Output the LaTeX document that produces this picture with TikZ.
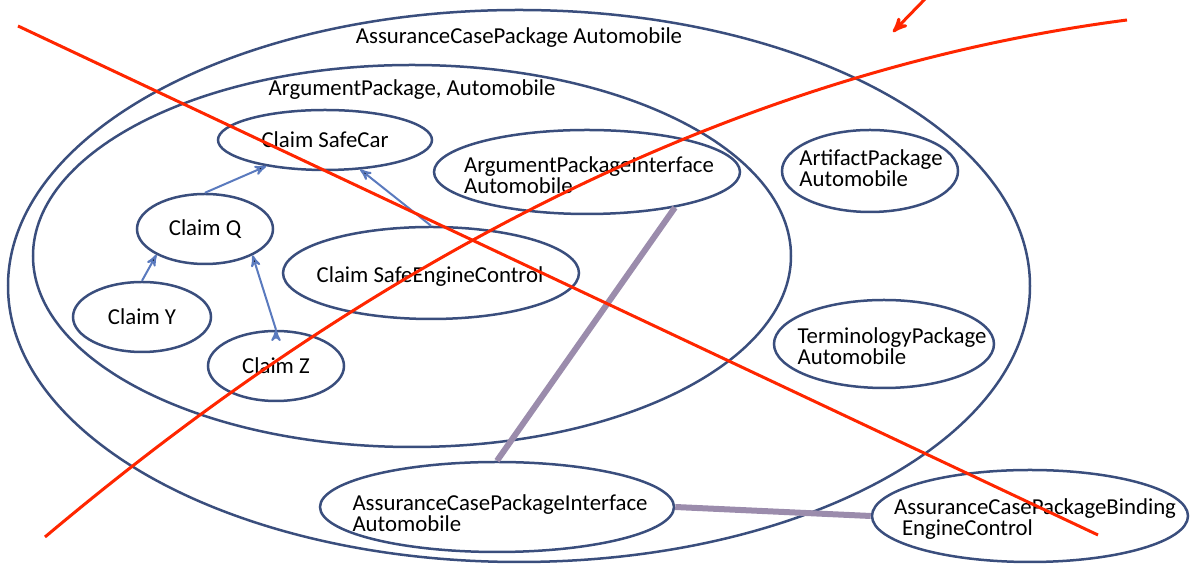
\documentclass[tikz,border=0pt]{standalone}
\usepackage{fontspec}
\setmainfont{Carlito}
\usepackage{tikz}
\usetikzlibrary{shapes.geometric}
\usetikzlibrary{arrows}

\begin{document}
\begin{tikzpicture}[x=0.5pt,y=-0.5pt,>=stealth',
	font=\fontsize{11.4}{10.3}\selectfont,
	main node/.style={ellipse,draw=edgeblue,line width=1.25pt,inner sep=0pt},
	txt/.style={align=left,inner sep=0pt},
	dep/.style={->,draw=arrowblue,line width=1pt},
	bind/.style={draw=bindgray,line width=3pt},
	cross/.style={draw=crossred,line width=1.5pt}]
	
	\definecolor{edgeblue}{RGB}{58,78,125}
	\definecolor{arrowblue}{RGB}{90,122,190}
	\definecolor{bindgray}{RGB}{155,140,172}
	\definecolor{crossred}{RGB}{255,38,0}
	
	\useasboundingbox (0,0) rectangle (1191,565);
	
	% packages
	\node[main node, minimum width=511pt, minimum height=276pt] (acp) at (519,286) {};
	\node[txt] (acp txt) at (519,38) {AssuranceCasePackage Automobile};
	\node[main node, minimum width=379pt, minimum height=191pt] (argpkg) at (412,256) {};
	\node[txt] (argpkg txt) at (412,90) {ArgumentPackage, Automobile};
	
	% claims
	\node[main node, minimum width=107pt, minimum height=30pt] (safecar) at (325,140) {Claim SafeCar};
	\node[main node, minimum width=68pt, minimum height=35pt] (claimq) at (205,229) {Claim Q};
	\node[main node, minimum width=69pt, minimum height=35pt] (claimy) at (142,317) {Claim Y};
	\node[main node, minimum width=68pt, minimum height=35pt] (claimz) at (276,366) {Claim Z};
	\node[main node, minimum width=148pt, minimum height=46pt] (safeengine) at (431,273) {};
	\node[txt] (safeengine txt) at (430,277) {Claim SafeEngineControl};
	
	\node[main node, minimum width=153pt, minimum height=42pt] (apiface) at (587,172) {};
	\node[txt] (apiface txt) at (589,175) {ArgumentPackageInterface\\Automobile};
	\node[main node, minimum width=88pt, minimum height=41pt] (artifact) at (870,171) {};
	\node[txt] (artifact txt) at (871,168) {ArtifactPackage\\Automobile};
	\node[main node, minimum width=110pt, minimum height=44pt] (terminology) at (884,344) {};
	\node[txt] (terminology txt) at (892,346) {TerminologyPackage\\Automobile};
	\node[main node, minimum width=177pt, minimum height=45pt] (acpiface) at (497,507) {};
	\node[txt] (acpiface txt) at (500,513) {AssuranceCasePackageInterface\\Automobile};
	\node[main node, minimum width=158pt, minimum height=46pt] (binding) at (1030,516) {};
	\node[txt] (binding txt) at (1035,519) {AssuranceCasePackageBinding\\\hspace{4pt}EngineControl};
	
	\path[dep]
	(claimq.north) edge (safecar.204)
	(safeengine.north) edge (safecar.320)
	(claimy.north) edge (claimq.208)
	(claimz.north) edge (claimq.331);
	
	\path[bind]
	(apiface.338) edge (acpiface.north)
	(acpiface.east) edge (binding.west);
	
	% cross-out
	\coordinate (x1) at (18,26);
	\coordinate (x2) at (1098,535);
	\coordinate (y1) at (45,537);
	\coordinate (y2) at (1127,20);
	\draw[cross] (x1) -- (x2);
	\draw[cross] (y1) .. controls (398,240) and (758,68) .. (y2);
	\draw[cross,->] (926,-2) -- (893,32);
\end{tikzpicture}
\end{document}
